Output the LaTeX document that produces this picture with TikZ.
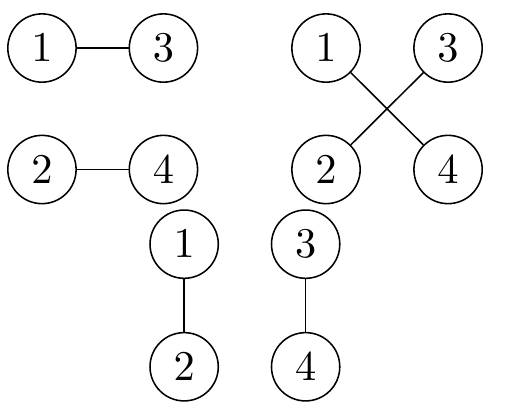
\documentclass[tikz,border=0pt]{standalone}
\usepackage{amsmath,amssymb}
\usepackage{tikz}
\usetikzlibrary{positioning}

\begin{document}
\begin{tikzpicture}[vertex/.style={circle, draw, minimum size=0.62cm, inner sep=2pt, font=\fontsize{10.95}{13.6}\selectfont}]
            \useasboundingbox (-0.381,0.436) rectangle (4.204,-3.332);
            % left pairing
            \node[vertex] (l1) at (0,0) {$1$};
            \node[vertex] (l3) at (1.103,0) {$3$};
            \node[vertex] (l2) at (0,-1.103) {$2$};
            \node[vertex] (l4) at (1.103,-1.103) {$4$};
            \draw (l1) -- (l3);
            \draw (l2) -- (l4);
            % crossed pairing
            \node[vertex] (r1) at (2.579,0) {$1$};
            \node[vertex] (r3) at (3.687,0) {$3$};
            \node[vertex] (r2) at (2.579,-1.103) {$2$};
            \node[vertex] (r4) at (3.687,-1.103) {$4$};
            \draw (r1) -- (r4);
            \draw (r3) -- (r2);
            % vertical pairing
            \node[vertex] (b1) at (1.291,-1.781) {$1$};
            \node[vertex] (b2) at (1.291,-2.894) {$2$};
            \node[vertex] (b3) at (2.394,-1.781) {$3$};
            \node[vertex] (b4) at (2.394,-2.894) {$4$};
            \draw (b1) -- (b2);
            \draw (b3) -- (b4);
        \end{tikzpicture}
\end{document}
